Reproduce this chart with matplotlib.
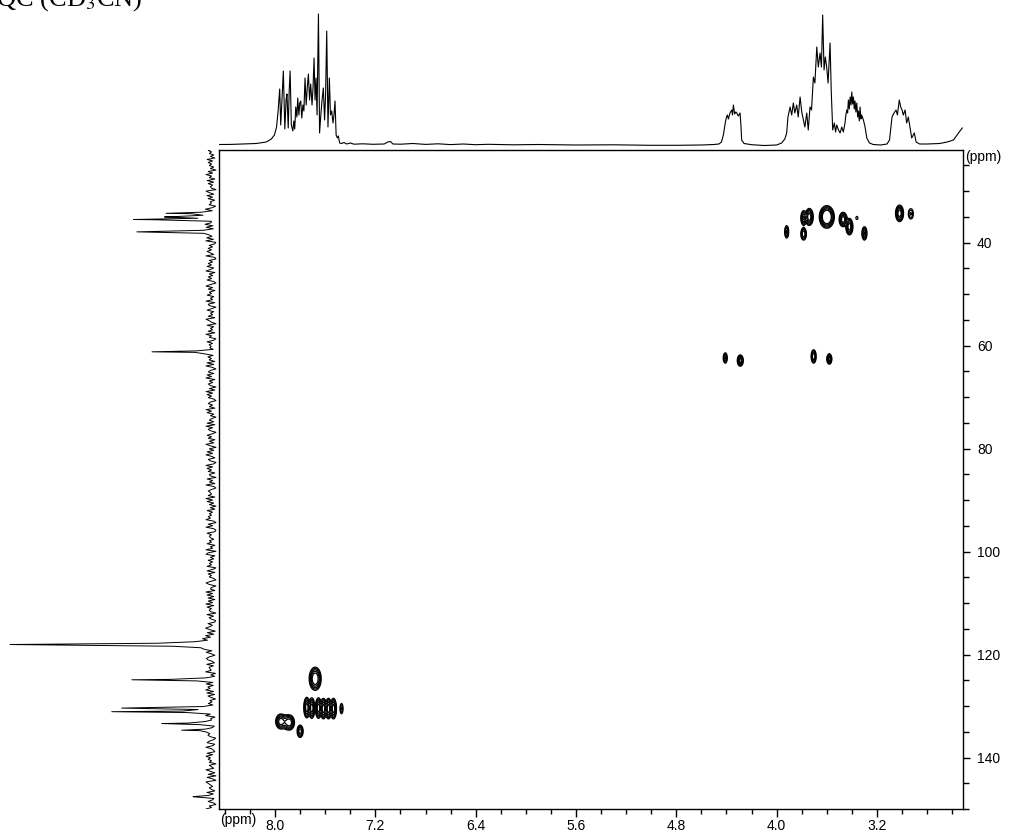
import numpy as np
import matplotlib.pyplot as plt
from matplotlib.ticker import MultipleLocator, FormatStrFormatter

plt.rcParams['font.family'] = ['Liberation Sans', 'DejaVu Sans']
plt.rcParams['mathtext.fontset'] = 'stix'

# 1H projection (top): vertices (ppm, height)
h1_ppm = [8.447, 8.35, 8.25, 8.15, 8.07, 8.03, 8.005, 7.988, 7.975, 7.963, 7.955, 7.946, 7.934,
          7.922, 7.912, 7.905, 7.895, 7.887, 7.880, 7.870, 7.858, 7.850, 7.843, 7.835, 7.826,
          7.819, 7.810, 7.803, 7.795, 7.787, 7.778, 7.770, 7.761, 7.752, 7.743, 7.734, 7.725,
          7.716, 7.705, 7.697, 7.689, 7.681, 7.673, 7.665, 7.654, 7.645, 7.635, 7.625, 7.615,
          7.605, 7.597, 7.588, 7.578, 7.567, 7.558, 7.548, 7.538, 7.530, 7.522, 7.513, 7.503,
          7.495, 7.485, 7.47, 7.45, 7.43, 7.40, 7.37, 7.30, 7.22, 7.13, 7.10, 7.08, 7.06, 7.00,
          6.90, 6.80, 6.70, 6.60, 6.50, 6.40, 6.30, 6.10, 5.90, 5.60, 5.30, 5.00, 4.80, 4.60,
          4.50, 4.46, 4.44, 4.425, 4.41, 4.40, 4.393, 4.385, 4.372, 4.358, 4.352, 4.345, 4.335,
          4.325, 4.318, 4.305, 4.292, 4.285, 4.279, 4.26, 4.20, 4.10, 4.00, 3.96, 3.935, 3.920,
          3.910, 3.893, 3.880, 3.867, 3.855, 3.840, 3.828, 3.813, 3.800, 3.787, 3.775, 3.760,
          3.748, 3.734, 3.722, 3.707, 3.695, 3.680, 3.668, 3.654, 3.643, 3.633, 3.622, 3.612,
          3.601, 3.590, 3.574, 3.565, 3.553, 3.540, 3.530, 3.521, 3.510, 3.494, 3.481, 3.468,
          3.455, 3.448, 3.441, 3.434, 3.428, 3.421, 3.414, 3.407, 3.401, 3.394, 3.388, 3.381,
          3.375, 3.368, 3.361, 3.354, 3.348, 3.341, 3.335, 3.328, 3.322, 3.308,
          3.295, 3.281, 3.260, 3.23, 3.17, 3.12, 3.100, 3.080, 3.064, 3.048, 3.037, 3.022,
          3.011, 3.000, 2.990, 2.976, 2.963, 2.950, 2.937, 2.923, 2.91, 2.902, 2.888, 2.86,
          2.80, 2.70, 2.64, 2.59, 2.55, 2.52]
h1_int = [0.5, 0.6, 1.0, 1.5, 3, 6, 10, 18, 35, 56, 20, 42, 74,
          16, 45, 51, 17, 55, 74, 20, 14, 24, 16, 38, 28,
          47, 30, 42, 44, 27, 40, 34, 67, 40, 58, 71, 45,
          61, 40, 58, 87, 45, 67, 30, 131, 12, 30, 45, 57,
          25, 50, 114, 18, 67, 30, 34, 22, 30, 44, 10, 7,
          9, 2, 1.5, 2.5, 1, 2, 0.8, 1.2, 0.7, 1, 3, 3.5, 1, 0.8,
          1.5, 0.6, 1.2, 0.4, 1.0, 0.3, 0.7, 0.2, 0.5, 0.0, 0.2, -0.3, -0.3, 0.0,
          0.5, 1, 3, 10, 22, 28, 30, 26, 32, 35, 30, 40, 31,
          33, 32, 29, 32, 20, 5, 1.5, 0.3, -0.5, 0, 2, 6, 12,
          28, 38, 30, 42, 32, 40, 28, 48, 33, 25, 18, 32,
          15, 38, 35, 68, 62, 98, 78, 92, 78, 130, 75, 88,
          78, 62, 102, 55, 15, 22, 13, 20, 16, 12, 18, 13,
          22, 30, 35, 32, 45, 36, 48, 40, 53, 41, 48, 36,
          44, 33, 42, 28, 34, 24, 38, 26, 30, 25,
          18, 7, 2, 0.5, 0, 1, 5, 28, 32, 35, 30, 45,
          38, 35, 30, 35, 22, 28, 18, 7, 10, 12, 3, 1,
          1, 1.5, 3, 5, 12, 17]

# 13C projection (left): lines (ppm, height, half width)
c13_ppm = [34.3, 35.0, 35.5, 37.9, 61.2, 118.05, 124.9, 130.4, 131.1, 133.4, 134.7, 147.6]
c13_int = [44, 44, 76, 74, 59, 201, 79, 88, 98, 49, 29, 18]
c13_lw = [0.08, 0.08, 0.08, 0.08, 0.08, 0.15, 0.08, 0.08, 0.08, 0.08, 0.08, 0.08]
# baseline noise of the 13C trace, one digit per step (0..9 around 4.5)
c13_noise = ("5374625183" "7462507394" "6182735409" "6283715460" "3928174650"
             "3928174653" "8290163748" "5291063748" "2591637482" "0593716482"
             "5391760482" "5371964082" "5371946028" "3645190827" "4618293057"
             "2849163750" "6193847205" "7361948250" "4628193750" "3847162950"
             "6283941750" "2938471650" "8361920475" "4719382605" "1836475920"
             "7392018465" "2648153907" "9152736480" "3817462059" "6045193827"
             "1739284650" "8264017359" "5071839264" "2946173058" "7318265490"
             "4063918275" "9281740536" "1657392804" "3849026175" "7502681394"
             "2183957460" "6429517083" "0975364182" "5813720649")

# HSQC cross peaks: 1H ppm, 13C ppm, outer half size (1H, 13C), intensity
cp_h = [3.92, 3.785, 3.785, 3.74, 3.60, 3.47, 3.42, 3.36, 3.30, 3.02, 2.93,
        4.41, 4.29, 3.705, 3.58,
        7.68, 7.747, 7.707, 7.654, 7.614, 7.574, 7.534, 7.47,
        7.955, 7.915, 7.885, 7.80]
cp_c = [37.9, 35.2, 38.3, 35.0, 35.0, 35.5, 36.9, 35.2, 38.2, 34.3, 34.4,
        62.4, 62.9, 62.1, 62.6,
        124.7, 130.3, 130.4, 130.4, 130.5, 130.5, 130.5, 130.5,
        133.0, 133.1, 133.2, 134.9]
cp_wh = [0.016, 0.022, 0.022, 0.032, 0.06, 0.032, 0.028, 0.008, 0.02, 0.032, 0.02,
         0.016, 0.024, 0.02, 0.02,
         0.048, 0.024, 0.024, 0.024, 0.024, 0.024, 0.024, 0.012,
         0.04, 0.03, 0.04, 0.024]
cp_wc = [1.2, 1.4, 1.2, 1.65, 2.2, 1.4, 1.6, 0.3, 1.3, 1.6, 1.0,
         1.0, 1.1, 1.3, 1.0,
         2.25, 2.0, 2.0, 2.0, 2.0, 2.0, 2.0, 1.0,
         1.45, 1.2, 1.45, 1.2]
cp_amp = [0.5, 0.8, 0.7, 1.0, 2.0, 1.0, 1.0, 0.15, 0.8, 1.0, 0.3,
          0.5, 0.9, 0.7, 0.9,
          1.3, 1.0, 1.0, 1.0, 1.0, 1.0, 1.0, 0.3,
          1.0, 0.4, 1.0, 0.6]
levels = [0.1, 0.17, 0.28, 0.45, 0.7]

W, H = 1009, 836
fig = plt.figure(figsize=(W / 100, H / 100), dpi=100)


def box(l, t, r, b):
    return [l / W, 1 - b / H, (r - l) / W, (b - t) / H]


ax = fig.add_axes(box(219, 150, 963, 809))
ax_top = fig.add_axes(box(219, 0, 963, 150))
ax_left = fig.add_axes(box(0, 150, 219, 809))

# 2D contours
gx = np.arange(2.50, 8.46, 0.003)
gy = np.arange(21.5, 150.5, 0.1)
Z = np.zeros((len(gy), len(gx)))
for h, c, wh, wc, a in zip(cp_h, cp_c, cp_wh, cp_wc, cp_amp):
    k = np.sqrt(2 * np.log(a / levels[0]))
    sx, sy = wh / k, wc / k
    Z += a * np.outer(np.exp(-0.5 * ((gy - c) / sy) ** 2), np.exp(-0.5 * ((gx - h) / sx) ** 2))
ax.contour(gx, gy, Z, levels=levels, colors='black', linewidths=0.9)

ax.set_xlim(8.447, 2.514)
ax.set_ylim(150, 22)
ax.xaxis.set_major_locator(MultipleLocator(0.8))
ax.xaxis.set_minor_locator(MultipleLocator(0.2))
ax.xaxis.set_major_formatter(FormatStrFormatter('%.1f'))
ax.yaxis.set_major_locator(MultipleLocator(20))
ax.yaxis.set_minor_locator(MultipleLocator(5))
ax.yaxis.tick_right()
ax.tick_params(axis='x', which='major', direction='out', length=6, width=1, pad=1, labelsize=10)
ax.tick_params(axis='x', which='minor', direction='out', length=3.5, width=1)
ax.tick_params(axis='y', which='major', direction='out', length=5, width=1, pad=5, labelsize=10)
ax.tick_params(axis='y', which='minor', direction='out', length=4, width=1)
for s in ax.spines.values():
    s.set_linewidth(1.0)

# 1H projection
ax_top.plot(h1_ppm, h1_int, color='black', lw=0.8)
ax_top.set_xlim(8.447, 2.514)
ax_top.set_ylim(-5, 145)
ax_top.axis('off')

# 13C projection
pos = np.linspace(21.5, 150, len(c13_noise))
noise = (np.array([int(ch) for ch in c13_noise]) - 4.5) * 1.1


def lor(x):
    s = np.zeros_like(x, dtype=float)
    for p, a, w in zip(c13_ppm, c13_int, c13_lw):
        s += a * w ** 2 / ((x - p) ** 2 + w ** 2)
    return s


cy = np.concatenate([pos, c13_ppm])
cx = np.concatenate([lor(pos) + noise, lor(np.array(c13_ppm, dtype=float))])
order = np.argsort(cy)
ax_left.plot(cx[order], cy[order], color='black', lw=0.7)
ax_left.set_xlim(211, -8)
ax_left.set_ylim(150, 22)
ax_left.axis('off')

fig.text(965 / W, 1 - 157 / H, '(ppm)', ha='left', va='center', fontsize=10)
fig.text(220 / W, 1 - 820 / H, '(ppm)', ha='left', va='center', fontsize=10)
fig.text(-37 / W, 1 - 5.5 / H, 'HSQC (CD$_3$CN)', ha='left', va='baseline',
         family=['Liberation Serif', 'DejaVu Serif'], fontsize=19)

fig.savefig('out.png', dpi=100)
